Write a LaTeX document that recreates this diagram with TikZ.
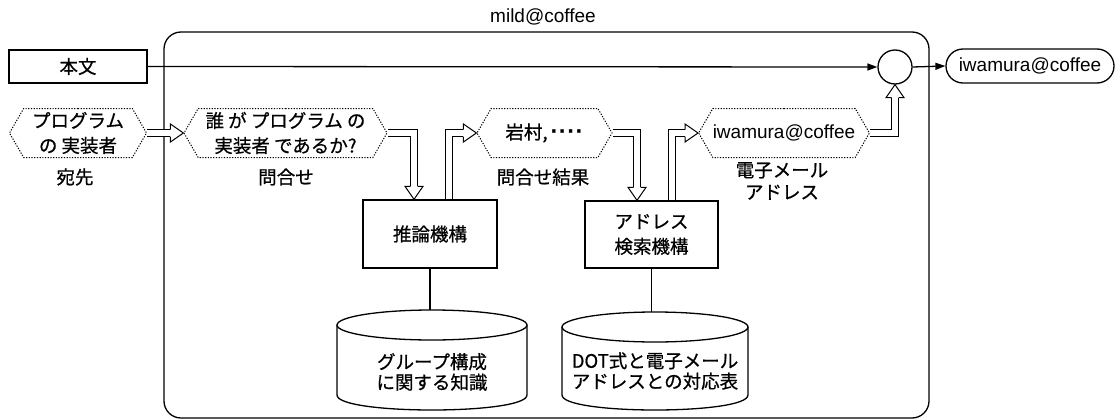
\documentclass[tikz,border=0pt]{standalone}
\usepackage{fontspec}
\setmainfont{Liberation Sans}
\newfontfamily\jp[FakeBold=0.7]{Noto Sans CJK JP}
\usetikzlibrary{arrows.meta,shapes.symbols,calc}
\begin{document}
\begin{tikzpicture}[x=1pt,y=-1pt,
  every node/.style={font=\jp\fontsize{18.5}{25}\selectfont, inner sep=0pt, align=center},
  lat/.style={font=\rmfamily\fontsize{19}{21}\selectfont},
  tight/.style={font=\jp\fontsize{18.5}{20.5}\selectfont},
  solidbox/.style={draw, line width=1.3pt, rectangle},
  hexa/.style={draw, shape=signal, signal to=west and east, signal pointer angle=120,
    dash pattern=on 1.2pt off 1.5pt, line width=1pt, minimum height=49pt},
  line/.style={line width=1.3pt},
  dbl/.style={line width=1pt, double=white, double distance=6pt},
  tip/.style={-{Triangle[length=10pt,width=7pt]}},
  openhead/.pic={
    \fill[white] (0,0) -- (-13,-9) -- (-13,9) -- cycle;
    \draw[line width=1pt, line join=miter] (-13,-3.5) -- (-13,-9) -- (0,0) -- (-13,9) -- (-13,3.5);
  },
]
\useasboundingbox (0,0) rectangle (1116,420);

% system frame
\node[draw, line width=1.3pt, rounded corners=17pt, minimum width=765pt, minimum height=386pt] (sys) at (546.5,225) {};
\node[lat] (sysl) at (543,17) {mild@coffee};

% body line
\node[solidbox, minimum width=138pt, minimum height=33pt] (body) at (78,66.5) {本文};
\node[draw, line width=1.3pt, circle, minimum size=34pt] (cir) at (895,67) {};
\node[draw, line width=1.3pt, rounded corners=17pt, minimum width=168pt, minimum height=34pt, lat] (out) at (1030,66) {iwamura@coffee};
\draw[line, tip] (body.east) -- (cir.west);
\draw[line, tip] (cir.east) -- (out.west);

% hexagons
\node[hexa, minimum width=137pt] (h1) at (78,133) {プログラム\\の 実装者};
\node[hexa, minimum width=203pt] (h2) at (285.5,133) {誰 が プログラム の\\実装者 であるか?};
\node[hexa, minimum width=135pt] (h3) at (544.5,133) {岩村,\,{\rmfamily\bfseries\fontsize{24}{24}\selectfont ·\kern0.3pt·\kern0.3pt·\kern0.3pt·}};
\node[hexa, minimum width=168pt, lat] (h4) at (784,133) {iwamura@coffee};

% labels
\node (l1) at (75,177) {宛先};
\node (l2) at (286,177) {問合せ};
\node (l3) at (543,177) {問合せ結果};
\node[font=\jp\fontsize{18.5}{22}\selectfont] (l4) at (782,181) {電子メール\\アドレス};

% mechanisms
\node[solidbox, minimum width=134pt, minimum height=68pt] (b1) at (430,234) {推論機構};
\node[solidbox, minimum width=133pt, minimum height=67pt] (b2) at (651.5,234.5) {アドレス\\検索機構};

% databases
\node[tight] (c1) at (432,372) {グループ構成\\に関する知識};
\coordinate (c1top) at (432,310);
\draw[line] (432,325) ellipse [x radius=95, y radius=15];
\draw[line] (337,325) -- (337,395) .. controls (337,415) and (527,415) .. (527,395) -- (527,325);

\node[tight] (c2) at (655,371) {DOT式と電子メール\\アドレスとの対応表};
\coordinate (c2top) at (655,312);
\draw[line] (655,327) ellipse [x radius=93, y radius=15];
\draw[line] (562,327) -- (562,395) .. controls (562,415) and (748,415) .. (748,395) -- (748,327);

\draw[line] (b1.south) -- (b1.south |- c1top);
\draw[line] (b2.south) -- (b2.south |- c2top);

% double arrows
\draw[dbl] (h1.east) -- ($(h2.west)+(-13,0)$);
\pic at (h2.west) {openhead};

\draw[dbl] (h2.east) -| ($(b1.north)+(-16,-13)$);
\pic[rotate=-90] at ($(b1.north)+(-16,0)$) {openhead};

\draw[dbl] ($(b1.north)+(19,0)$) |- ($(h3.west)+(-13,0)$);
\pic at (h3.west) {openhead};

\draw[dbl] (h3.east) -| ($(b2.north)+(-14.5,-13)$);
\pic[rotate=-90] at ($(b2.north)+(-14.5,0)$) {openhead};

\draw[dbl] ($(b2.north)+(20,0)$) |- ($(h4.west)+(-13,0)$);
\pic at (h4.west) {openhead};

\draw[dbl] (h4.east) -| ($(cir.south)+(0,13)$);
\pic[rotate=90] at (cir.south) {openhead};
\end{tikzpicture}
\end{document}
